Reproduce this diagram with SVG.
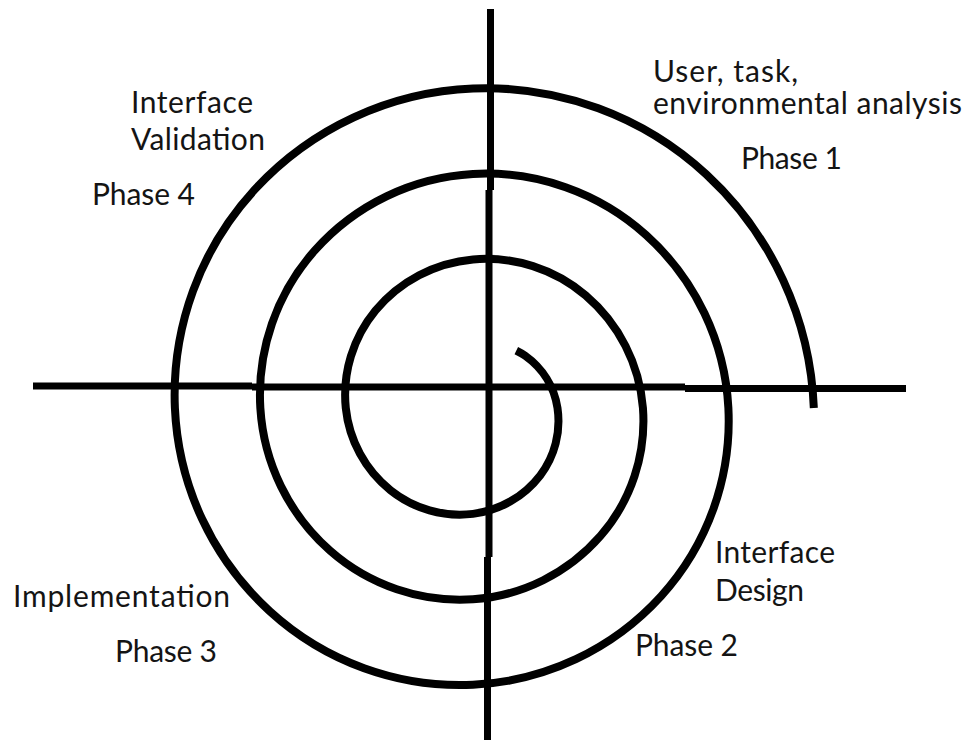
<svg xmlns="http://www.w3.org/2000/svg" width="979" height="740" viewBox="0 0 979 740">
<style>
.ax{fill:none;stroke:#000;stroke-width:7;stroke-linecap:butt}
.sp{fill:none;stroke:#000;stroke-width:8;stroke-linecap:butt}
text{font-family:Lato,"Liberation Sans",sans-serif;font-size:30px;fill:#141414}
</style>
<rect width="979" height="740" fill="#fff"/>
<g id="connectors">
<path class="ax" d="M490.5 9 V190 M489 190 V557 M487.5 557 V740"/>
<path class="ax" d="M33 386 H252 M252 387 H685 M685 388.5 H906"/>
<path id="spiral" class="sp" d="M516.3 350.6 A73 73 0 0 1 525.2 355.8 A79.16 79.16 0 0 1 557.5 408 A89.84 89.84 0 0 1 540.3 475.3 A100.52 100.52 0 0 1 473 513.86 A111.2 111.2 0 0 1 390.59 490.41 A121.88 121.88 0 0 1 345.78 408 A132.56 132.56 0 0 1 375.49 310.49 A143.24 143.24 0 0 1 473 259.42 A153.92 153.92 0 0 1 585.61 295.39 A164.6 164.6 0 0 1 642.94 408 A175.28 175.28 0 0 1 600.72 535.72 A185.96 185.96 0 0 1 473 599.3 A196.64 196.64 0 0 1 330.18 550.82 A207.32 207.32 0 0 1 260.34 408 A218 218 0 0 1 315.08 250.08 A228.68 228.68 0 0 1 473 173.98 A239.36 239.36 0 0 1 646.03 234.97 A250.04 250.04 0 0 1 728.38 408 A260.72 260.72 0 0 1 661.13 596.13 A271.4 271.4 0 0 1 473 684.74 A282.08 282.08 0 0 1 269.77 611.23 A292.76 292.76 0 0 1 174.9 408 A303.44 303.44 0 0 1 254.66 189.66 A314.12 314.12 0 0 1 473 88.54 A324.8 324.8 0 0 1 706.44 174.56 A335.48 335.48 0 0 1 813.82 408"/>
</g>
<g id="phase1">
<text x="653" y="82" textLength="145">User, task,</text>
<text x="653" y="114" textLength="309">environmental analysis</text>
<text x="741" y="169" textLength="101">Phase 1</text>
</g>
<g id="phase2">
<text x="715" y="563" textLength="120">Interface</text>
<text x="715" y="601" textLength="89">Design</text>
<text x="635" y="656" textLength="103">Phase 2</text>
</g>
<g id="phase3">
<text x="13" y="607" textLength="217">Implementation</text>
<text x="115" y="662" textLength="102">Phase 3</text>
</g>
<g id="phase4">
<text x="131" y="113" textLength="122">Interface</text>
<text x="131" y="150" textLength="134">Validation</text>
<text x="92" y="205" textLength="103">Phase 4</text>
</g>
</svg>
